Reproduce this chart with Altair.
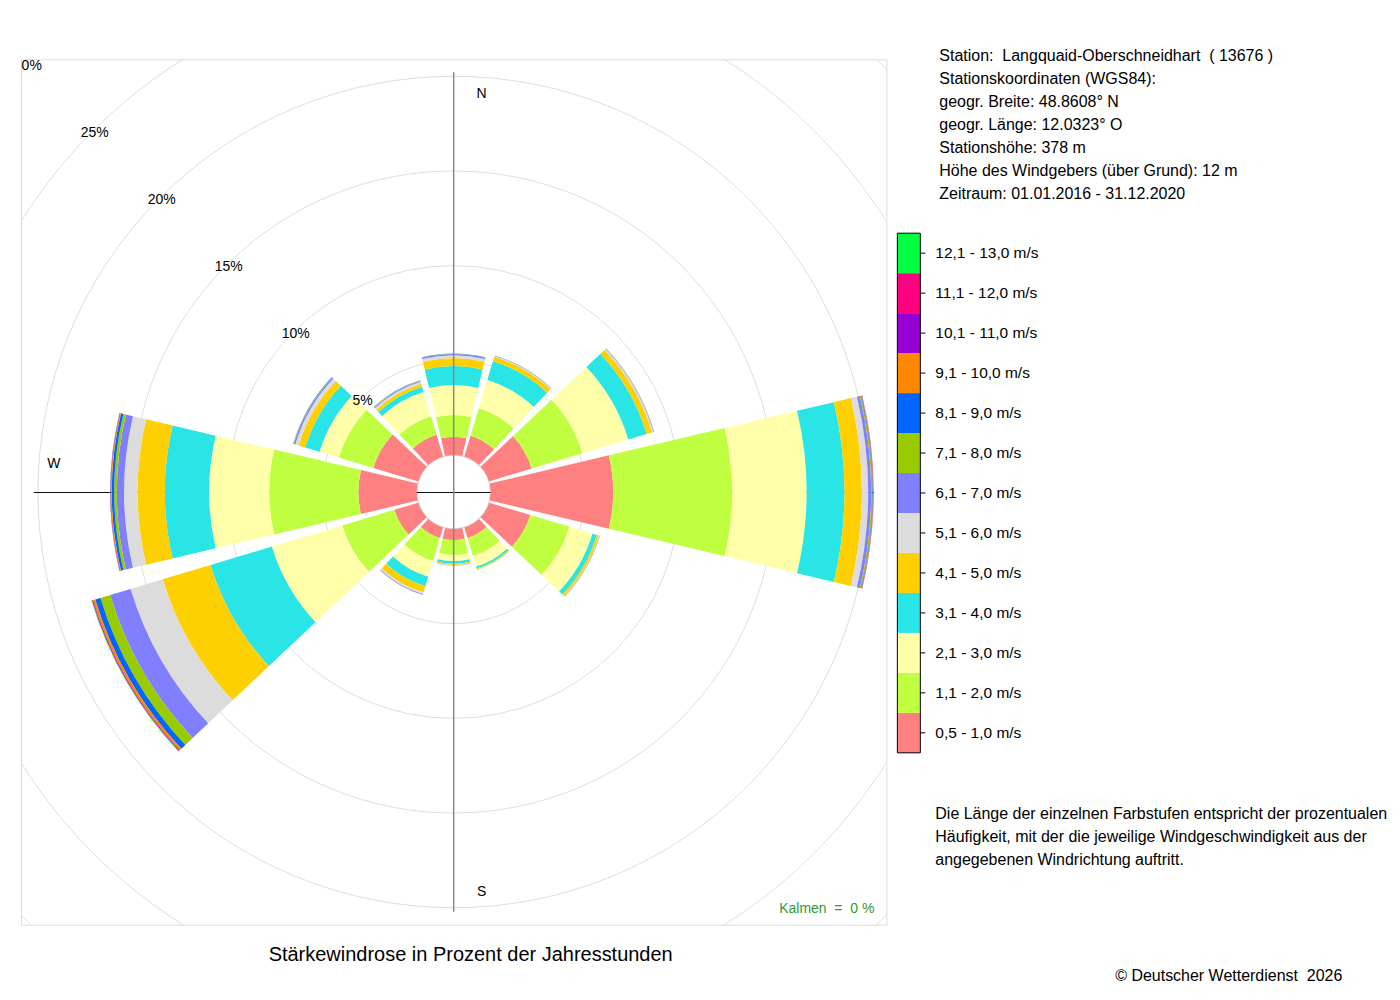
import math
import altair as alt
import pandas as pd

# ---------------- data ----------------
directions = ["N", "NNE", "ENE", "E", "ESE", "SSE", "S", "SSW", "WSW", "W", "WNW", "NNW"]
direction_deg = [0, 30, 60, 90, 120, 150, 180, 210, 240, 270, 300, 330]

speed_classes = [
    "0,5 - 1,0 m/s", "1,1 - 2,0 m/s", "2,1 - 3,0 m/s", "3,1 - 4,0 m/s",
    "4,1 - 5,0 m/s", "5,1 - 6,0 m/s", "6,1 - 7,0 m/s", "7,1 - 8,0 m/s",
    "8,1 - 9,0 m/s", "9,1 - 10,0 m/s", "10,1 - 11,0 m/s", "11,1 - 12,0 m/s",
    "12,1 - 13,0 m/s",
]
class_colors = [
    "#FF8080", "#BFFF3F", "#FFFFAA", "#2AE5E5", "#FFD000", "#DCDCDC", "#8080FF",
    "#99CC00", "#0066FF", "#FF8800", "#9400D3", "#FF0080", "#00FF40",
]

# percent of the year's hours per speed class, in the order of `directions`
f_0510 = [0.97, 1.15, 2.35, 6.47, 2.27, 0.58, 0.58, 0.58, 1.32, 3.08, 2.48, 1.20]
f_1120 = [1.14, 1.51, 2.80, 6.28, 2.16, 1.00, 0.79, 1.27, 2.87, 4.71, 1.90, 1.02]
f_2130 = [1.58, 1.56, 2.53, 3.93, 1.27, 0.58, 0.32, 0.87, 3.88, 3.17, 1.06, 1.34]
f_3140 = [1.01, 1.03, 1.01, 2.00, 0.24, 0.11, 0.14, 0.53, 3.38, 2.34, 0.79, 0.29]
f_4150 = [0.42, 0.25, 0.30, 0.92, 0.11, 0.05, 0.07, 0.34, 2.64, 1.44, 0.37, 0.16]
f_5160 = [0.15, 0.05, 0.08, 0.33, 0.03, 0.02, 0.03, 0.09, 1.77, 0.71, 0.18, 0.11]
f_6170 = [0.06, 0.02, 0.03, 0.16, 0.02, 0.01, 0.01, 0.04, 1.13, 0.38, 0.08, 0.05]
f_7180 = [0.02, 0.01, 0.01, 0.06, 0.01, 0.00, 0.00, 0.01, 0.53, 0.14, 0.03, 0.03]
f_8190 = [0.01, 0.00, 0.00, 0.03, 0.00, 0.00, 0.00, 0.00, 0.29, 0.13, 0.01, 0.01]
f_91100 = [0.00, 0.00, 0.00, 0.02, 0.00, 0.00, 0.00, 0.00, 0.13, 0.05, 0.00, 0.00]
f_101110 = [0.00, 0.00, 0.00, 0.01, 0.00, 0.00, 0.00, 0.00, 0.04, 0.02, 0.00, 0.00]
f_111120 = [0.00, 0.00, 0.00, 0.01, 0.00, 0.00, 0.00, 0.00, 0.02, 0.01, 0.00, 0.00]
f_121130 = [0.00, 0.00, 0.00, 0.00, 0.00, 0.00, 0.00, 0.00, 0.02, 0.01, 0.00, 0.00]
freq = [f_0510, f_1120, f_2130, f_3140, f_4150, f_5160, f_6170, f_7180,
        f_8190, f_91100, f_101110, f_111120, f_121130]

ring_pct = [0, 5, 10, 15, 20, 25, 30]
ring_label_pct = [5, 10, 15, 20, 25, 30]

NB = "\u00a0"  # keeps the double spaces of the original text
station_lines = [
    f"Station:{NB} Langquaid-Oberschneidhart{NB} ( 13676 )",
    "Stationskoordinaten (WGS84):",
    "geogr. Breite: 48.8608° N",
    "geogr. Länge: 12.0323° O",
    "Stationshöhe: 378 m",
    "Höhe des Windgebers (über Grund): 12 m",
    "Zeitraum: 01.01.2016 - 31.12.2020",
]
note_lines = [
    "Die Länge der einzelnen Farbstufen entspricht der prozentualen",
    "Häufigkeit, mit der die jeweilige Windgeschwindigkeit aus der",
    "angegebenen Windrichtung auftritt.",
]
title_text = "Stärkewindrose in Prozent der Jahresstunden"
copyright_text = f"© Deutscher Wetterdienst{NB} 2026"
calm_text = f"Kalmen{NB} ={NB} 0 %"

# ---------------- layout constants ----------------
SIZE = 866            # plot box (view) size
C = SIZE / 2          # centre of the rose
R0 = 37.0             # inner hole radius (0 %)
K = 18.95             # pixels per percent
HALF = 13.3           # half angular width of a sector
FONT = "Liberation Sans"

# ---------------- tables ----------------
rows = []
totals = []
for i, d in enumerate(direction_deg):
    cum = 0.0
    for j, cls in enumerate(speed_classes):
        v = freq[j][i]
        if v > 0:
            rows.append({"dir": directions[i], "cls": cls, "t0": d - HALF, "t1": d + HALF,
                         "r0": cum, "r1": cum + v})
        cum += v
    totals.append(cum)
sectors = pd.DataFrame(rows)
rings = pd.DataFrame({"pct": ring_pct})
ring_labels = pd.DataFrame({"pct": ring_label_pct, "txt": [f"{p}%" for p in ring_label_pct]})
legend_df = pd.DataFrame({"cls": speed_classes})
one = pd.DataFrame({"k": [0]})

rscale = alt.Scale(type="linear", domain=[0, 30], range=[R0, R0 + 30 * K])
tscale = alt.Scale(type="linear", domain=[0, 360], range=[0, 2 * math.pi])
cscale = alt.Scale(domain=speed_classes, range=class_colors)
yleg = alt.Scale(domain=speed_classes[::-1], range=[174, 694], paddingInner=0, paddingOuter=0)

L = R0 + max(totals) * K

# ---------------- layers ----------------
ring_layer = alt.Chart(rings).mark_arc(filled=False, stroke="#dedede", strokeWidth=1, clip=True).encode(
    theta=alt.value(0),
    theta2=alt.value(6.2832),
    radius=alt.Radius("pct:Q", scale=rscale, stack=None),
)

hline = alt.Chart(one).mark_rule(color="#111111", strokeWidth=1).encode(
    x=alt.value(C - L), x2=alt.value(C + L), y=alt.value(C + 0.5)
)

sector_layer = alt.Chart(sectors).mark_arc().encode(
    theta=alt.Theta("t0:Q", scale=tscale, stack=None),
    theta2=alt.Theta2("t1"),
    radius=alt.Radius("r0:Q", scale=rscale, stack=None),
    radius2=alt.Radius2("r1"),
    color=alt.Color("cls:N", scale=cscale, legend=None),
)

vline = alt.Chart(one).mark_rule(color="#888888", strokeWidth=1.5).encode(
    x=alt.value(C), y=alt.value(C - L), y2=alt.value(C + L)
)

ring_text = alt.Chart(ring_labels).mark_text(fontSize=14, clip=True, color="black", dx=2, dy=2).encode(
    theta=alt.value(7 * math.pi / 4),
    radius=alt.Radius("pct:Q", scale=rscale, stack=None),
    text="txt:N",
)

def label(txt, x, y, **kw):
    return alt.Chart(one).mark_text(**kw).encode(
        x=alt.value(x), y=alt.value(y), text=alt.value(txt)
    )

n_lab = label("N", C + 28, C - 398, fontSize=14, baseline="middle", align="center")
s_lab = label("S", C + 28, C + 400, fontSize=14, baseline="middle", align="center")
w_lab = label("W", C - 400, C - 28, fontSize=14, baseline="middle", align="center")

station = label("\n".join(station_lines), 919, 2, fontSize=16, align="left",
                baseline="alphabetic", lineBreak="\n", lineHeight=23)
note = label("\n".join(note_lines), 915, 760, fontSize=16, align="left",
             baseline="alphabetic", lineBreak="\n", lineHeight=23)
title = label(title_text, 450, 902, fontSize=20, align="center", baseline="alphabetic")
copy_ = label(copyright_text, 1095, 922, fontSize=16, align="left", baseline="alphabetic")
calm = label(calm_text, 854, 854, fontSize=14, align="right", baseline="alphabetic", color="#339933")

leg_rect = alt.Chart(legend_df).mark_rect().encode(
    y=alt.Y("cls:N", scale=yleg, axis=None),
    x=alt.value(877), x2=alt.value(900),
    color=alt.Color("cls:N", scale=cscale, legend=None),
)
leg_frame = alt.Chart(one).mark_rect(filled=False, stroke="black", strokeWidth=1).encode(
    x=alt.value(877), x2=alt.value(900), y=alt.value(174), y2=alt.value(694)
)
leg_ticks = alt.Chart(legend_df).mark_rule(color="black", strokeWidth=1).encode(
    y=alt.Y("cls:N", scale=yleg, axis=None, bandPosition=0.5),
    x=alt.value(900), x2=alt.value(905),
)
leg_text = alt.Chart(legend_df).mark_text(fontSize=15.5, align="left", baseline="middle").encode(
    y=alt.Y("cls:N", scale=yleg, axis=None, bandPosition=0.5),
    x=alt.value(915),
    text="cls:N",
)

chart = alt.layer(
    ring_layer, hline, sector_layer, vline, ring_text, n_lab, s_lab, w_lab,
    station, note, title, copy_, calm, leg_rect, leg_frame, leg_ticks, leg_text,
).properties(
    width=SIZE, height=SIZE,
    autosize=alt.AutoSizeParams(type="none"),
    padding={"left": 13, "top": 51, "right": 506, "bottom": 70},
).configure_view(
    stroke="#444444", strokeWidth=1
).configure(
    font=FONT
)

chart.save("out.html", embed_options={"renderer": "svg", "actions": False})
